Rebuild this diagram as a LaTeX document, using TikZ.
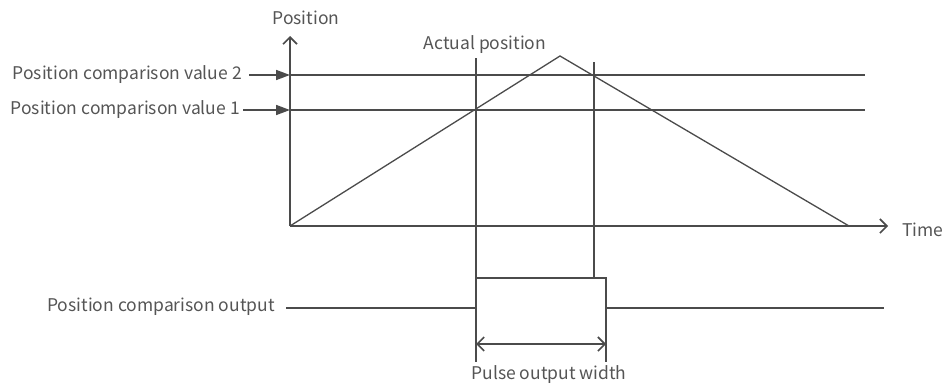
\documentclass[tikz,border=0pt]{standalone}
\usepackage{fontspec}
\setmainfont{Noto Sans CJK SC}
\usetikzlibrary{arrows.meta}
\definecolor{ink}{RGB}{75,75,75}
\definecolor{txt}{RGB}{85,85,85}
\begin{document}
\begin{tikzpicture}[x=1pt,y=-1pt,
  ln/.style={draw=ink,line width=1.6pt},
  thin/.style={draw=ink,line width=1.3pt},
  lbl/.style={text=txt,font=\fontsize{17.5}{20}\selectfont,inner sep=0pt},
  open/.style={-{Straight Barb[length=7pt,width=14pt]}},
  fill tip/.style={-{Triangle[length=14pt,width=10pt]}}]
\useasboundingbox (0,0) rectangle (947,388);
% axes
\coordinate (O) at (290,226);
\coordinate (ytop) at (290,36);
\coordinate (xend) at (888,226);
\draw[ln,open] (O) -- (ytop);
\draw[ln,open] (O) -- (xend);
\node[lbl] (pos) at (306,18) {Position};
\node[lbl,anchor=west] (time) at (902,230) {Time};
% comparison values
\coordinate (v2a) at (290,75);
\coordinate (v2b) at (865,75);
\coordinate (v1a) at (290,110);
\coordinate (v1b) at (865,110);
\draw[ln] (v2a) -- (v2b);
\draw[ln] (v1a) -- (v1b);
\node[lbl,anchor=east] (cv2) at (242,75) {Position comparison value 2};
\node[lbl,anchor=east] (cv1) at (240,110) {Position comparison value 1};
\draw[ln,fill tip] (cv2.east) ++(7,0) -- (v2a);
\draw[ln,fill tip] (cv1.east) ++(3,0) -- (v1a);
% actual position
\coordinate (peak) at (560,56);
\coordinate (tend) at (849,226);
\draw[thin] (O) -- (peak) -- (tend);
\node[lbl] (act) at (485,45) {Actual position};
% verticals
\coordinate (L1t) at (476,58);
\coordinate (L1b) at (476,362);
\coordinate (R1t) at (594,62);
\coordinate (R1b) at (594,278);
\draw[thin] (L1t) -- (L1b);
\draw[thin] (R1t) -- (R1b);
% output
\coordinate (oa) at (286,308);
\coordinate (ob) at (476,308);
\coordinate (oc) at (476,278);
\coordinate (od) at (606,278);
\coordinate (oe) at (606,308);
\coordinate (of) at (884,308);
\draw[ln] (oa) -- (ob) -- (oc) -- (od) -- (oe) -- (of);
\coordinate (R2b) at (606,362);
\draw[thin] (oe) -- (R2b);
\node[lbl,anchor=east] (outl) at (275,307) {Position comparison output};
% pulse width
\coordinate (pa) at (476,344);
\coordinate (pb) at (606,344);
\draw[ln,{Straight Barb[length=7pt,width=14pt]}-{Straight Barb[length=7pt,width=14pt]}] (pa) -- (pb);
\node[lbl] (pw) at (549,375) {Pulse output width};
\end{tikzpicture}
\end{document}
